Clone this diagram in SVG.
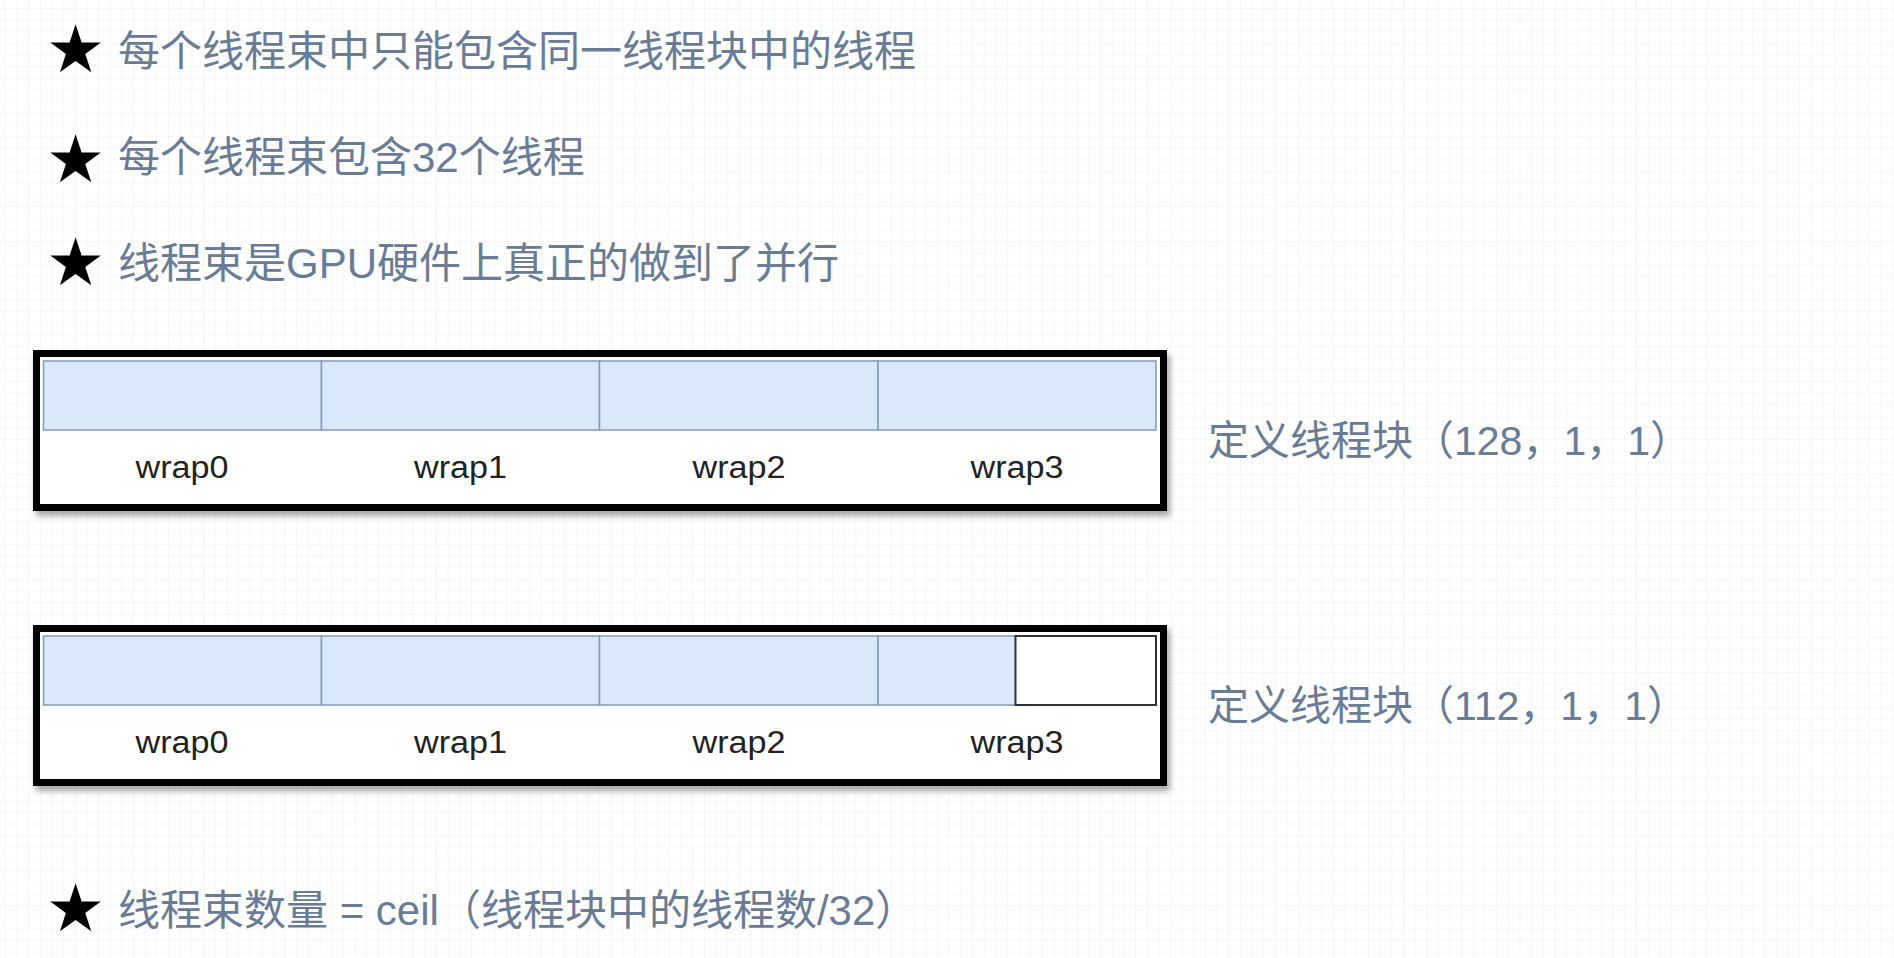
<svg xmlns="http://www.w3.org/2000/svg" width="1894" height="958" viewBox="0 0 1894 958">
<style>
.note{font-family:"Liberation Sans","Noto Sans CJK SC",sans-serif;font-size:42px;fill:#6a7c95}
.label{font-family:"Liberation Sans","Noto Sans CJK SC",sans-serif;font-size:41px;fill:#6a7c95}
.star{font-family:"DejaVu Sans",sans-serif;font-size:66px;fill:#000}
.frame{fill:#fff;stroke:#000;stroke-width:7}
.cell{fill:#dae8fc;stroke:#8299b9;stroke-width:1.5}
.empty{fill:#fff;stroke:#333;stroke-width:2}
.wrap{font-family:"Liberation Sans",Arial,sans-serif;font-size:31px;fill:#222;text-anchor:middle}
</style>
<defs>
<pattern id="grid" width="11.65" height="11.65" patternUnits="userSpaceOnUse" x="5" y="8">
<path d="M0 0H11.65M0 0V11.65" fill="none" stroke="#efefef" stroke-width="1.2"/>
</pattern>
<filter id="shadow" x="-5%" y="-10%" width="110%" height="130%">
<feDropShadow dx="3" dy="5" stdDeviation="3" flood-color="#000" flood-opacity="0.35"/>
</filter>
</defs>
<rect width="1894" height="958" fill="#fff"/>
<rect width="1894" height="958" fill="url(#grid)"/>

<g id="note1"><text class="star" x="46" y="72">★</text><text class="note" x="118" y="66">每个线程束中只能包含同一线程块中的线程</text></g>
<g id="note2"><text class="star" x="46" y="182">★</text><text class="note" x="118" y="172">每个线程束包含32个线程</text></g>
<g id="note3"><text class="star" x="46" y="285">★</text><text class="note" x="118" y="278">线程束是GPU硬件上真正的做到了并行</text></g>
<g id="note4"><text class="star" x="46" y="931">★</text><text class="note" x="118" y="925">线程束数量 = ceil（线程块中的线程数/32）</text></g>

<g id="block128">
<rect class="frame" x="36.5" y="353.5" width="1127" height="154" filter="url(#shadow)"/>
<rect class="cell" x="43.5" y="361" width="278" height="69"/>
<rect class="cell" x="321.5" y="361" width="278" height="69"/>
<rect class="cell" x="599.5" y="361" width="278.5" height="69"/>
<rect class="cell" x="878" y="361" width="278" height="69"/>
<text class="wrap" x="182" y="478" textLength="93" lengthAdjust="spacingAndGlyphs">wrap0</text>
<text class="wrap" x="460.5" y="478" textLength="93" lengthAdjust="spacingAndGlyphs">wrap1</text>
<text class="wrap" x="739" y="478" textLength="93" lengthAdjust="spacingAndGlyphs">wrap2</text>
<text class="wrap" x="1017" y="478" textLength="93" lengthAdjust="spacingAndGlyphs">wrap3</text>
</g>
<g id="label128"><text class="label" x="1208" y="455">定义线程块（128，1，1）</text></g>

<g id="block112">
<rect class="frame" x="36.5" y="628.5" width="1127" height="154" filter="url(#shadow)"/>
<rect class="cell" x="43.5" y="636" width="278" height="69"/>
<rect class="cell" x="321.5" y="636" width="278" height="69"/>
<rect class="cell" x="599.5" y="636" width="278.5" height="69"/>
<rect class="cell" x="878" y="636" width="137.5" height="69"/>
<rect class="empty" x="1015.5" y="636" width="140.5" height="69"/>
<text class="wrap" x="182" y="753" textLength="93" lengthAdjust="spacingAndGlyphs">wrap0</text>
<text class="wrap" x="460.5" y="753" textLength="93" lengthAdjust="spacingAndGlyphs">wrap1</text>
<text class="wrap" x="739" y="753" textLength="93" lengthAdjust="spacingAndGlyphs">wrap2</text>
<text class="wrap" x="1017" y="753" textLength="93" lengthAdjust="spacingAndGlyphs">wrap3</text>
</g>
<g id="label112"><text class="label" x="1208" y="720">定义线程块（112，1，1）</text></g>

<g id="connectors"></g>
</svg>
